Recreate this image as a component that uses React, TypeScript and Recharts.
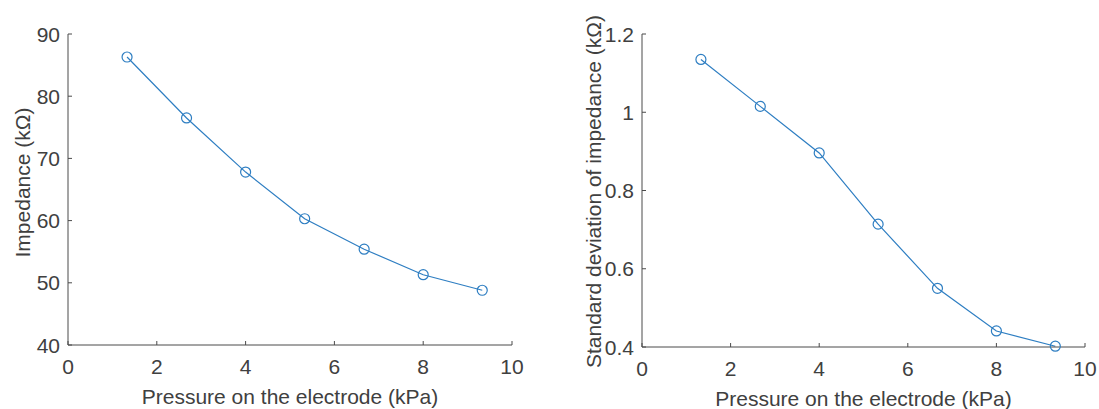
import React from "react";
import { LineChart, Line, XAxis, YAxis } from "recharts";

const pressure = [1.33, 2.67, 4.0, 5.33, 6.67, 8.0, 9.33];
const impedance = [86.3, 76.5, 67.8, 60.3, 55.4, 51.3, 48.8];
const stdDev = [1.135, 1.015, 0.896, 0.714, 0.55, 0.441, 0.402];

const xTicks = [0, 2, 4, 6, 8, 10];
const impTicks = [40, 50, 60, 70, 80, 90];
const sdTicks = [0.4, 0.6, 0.8, 1, 1.2];

const xLabel = "Pressure on the electrode (kPa)";
const impLabel = "Impedance (kΩ)";
const sdLabel = "Standard deviation of impedance (kΩ)";

const impData = pressure.map((p, i) => ({ x: p, y: impedance[i] }));
const sdData = pressure.map((p, i) => ({ x: p, y: stdDev[i] }));

const FONT = "'Liberation Sans', Arial, Helvetica, sans-serif";
const TEXT = "#404040";
const AXIS = "#4a4a4a";
const BLUE = "#2e7ec2";
const FS = 21;

const XTick = (props: any) => {
  const { x, y, payload } = props;
  return (
    <g>
      <line x1={x} y1={y} x2={x} y2={y - 4} stroke={AXIS} strokeWidth={1} />
      <text x={x} y={y + 29} textAnchor="middle" fontFamily={FONT} fontSize={FS} fill={TEXT}>
        {String(payload.value)}
      </text>
    </g>
  );
};

const YTick = (props: any) => {
  const { x, y, payload } = props;
  return (
    <g>
      <line x1={x} y1={y} x2={x + 4} y2={y} stroke={AXIS} strokeWidth={1} />
      <text x={x - 8} y={y + 7.5} textAnchor="end" fontFamily={FONT} fontSize={FS} fill={TEXT}>
        {String(payload.value)}
      </text>
    </g>
  );
};

const makeYLabel = (text: string, cx: number, dy: number) => (props: any) => {
  const vb = props.viewBox || {};
  const x = vb.x + cx;
  const y = vb.y + vb.height / 2 + dy;
  return (
    <text
      x={x}
      y={y}
      transform={`rotate(-90 ${x} ${y})`}
      textAnchor="middle"
      dominantBaseline="central"
      fontFamily={FONT}
      fontSize={FS}
      fill={TEXT}
    >
      {text}
    </text>
  );
};

const XLabel = (props: any) => {
  const vb = props.viewBox || {};
  return (
    <text
      x={vb.x + vb.width / 2}
      y={vb.y + 59}
      textAnchor="middle"
      fontFamily={FONT}
      fontSize={FS}
      fill={TEXT}
    >
      {xLabel}
    </text>
  );
};

export default function App() {
  return (
    <div style={{ position: "absolute", left: 0, top: 0, width: 1099, height: 409, background: "#fff" }}>
      <div style={{ position: "absolute", left: 0, top: 0 }}>
        <LineChart width={540} height={409} data={impData} margin={{ top: 34, right: 28, bottom: 34, left: 8 }}>
          <XAxis
            dataKey="x"
            type="number"
            domain={[0, 10]}
            ticks={xTicks}
            interval={0}
            tickSize={0}
            tickMargin={0}
            tick={<XTick />}
            height={30}
            stroke={AXIS}
            label={<XLabel />}
          />
          <YAxis
            dataKey="y"
            type="number"
            domain={[40, 90]}
            ticks={impTicks}
            interval={0}
            tickSize={0}
            tickMargin={0}
            tick={<YTick />}
            width={60}
            stroke={AXIS}
            label={makeYLabel(impLabel, 14, -7)}
          />
          <Line
            dataKey="y"
            type="linear"
            stroke={BLUE}
            strokeWidth={1.2}
            dot={{ r: 5, fill: "none", stroke: BLUE, strokeWidth: 1.2 }}
            isAnimationActive={false}
          />
        </LineChart>
      </div>
      <div style={{ position: "absolute", left: 560, top: 0 }}>
        <LineChart width={539} height={409} data={sdData} margin={{ top: 34, right: 14, bottom: 32, left: 22 }}>
          <XAxis
            dataKey="x"
            type="number"
            domain={[0, 10]}
            ticks={xTicks}
            interval={0}
            tickSize={0}
            tickMargin={0}
            tick={<XTick />}
            height={30}
            stroke={AXIS}
            label={<XLabel />}
          />
          <YAxis
            dataKey="y"
            type="number"
            domain={[0.4, 1.2]}
            ticks={sdTicks}
            interval={0}
            tickSize={0}
            tickMargin={0}
            tick={<YTick />}
            width={60}
            stroke={AXIS}
            label={makeYLabel(sdLabel, 11, 1)}
          />
          <Line
            dataKey="y"
            type="linear"
            stroke={BLUE}
            strokeWidth={1.2}
            dot={{ r: 5, fill: "none", stroke: BLUE, strokeWidth: 1.2 }}
            isAnimationActive={false}
          />
        </LineChart>
      </div>
    </div>
  );
}
